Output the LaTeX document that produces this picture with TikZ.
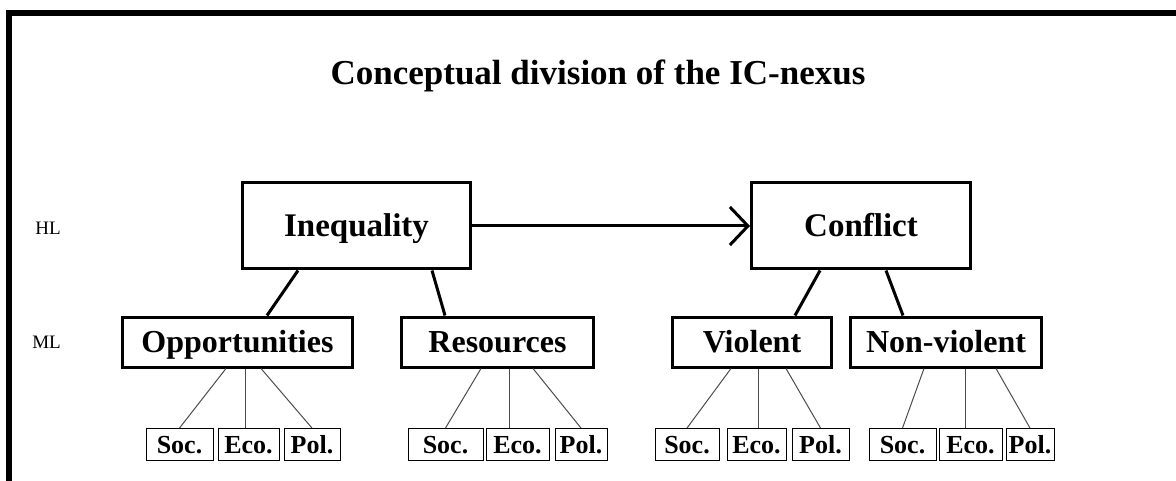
\documentclass[tikz,border=0pt]{standalone}
\usepackage{fontspec}
\setmainfont{Liberation Serif}
\usetikzlibrary{arrows.meta}

\begin{document}
\begin{tikzpicture}[
	x = 1pt, y = -1pt,
	bigbox/.style = {draw, line width=3pt, font=\bfseries\fontsize{33}{36}\selectfont, text height=22pt, text depth=0pt, minimum height=86pt, inner sep=0pt},
	midbox/.style = {draw, line width=3pt, font=\bfseries\fontsize{32}{36}\selectfont, text height=21pt, text depth=0pt, minimum height=50pt, inner sep=0pt},
	smallbox/.style = {draw, line width=0.9pt, font=\bfseries\fontsize{26}{30}\selectfont, text height=17pt, text depth=0pt, minimum height=32pt, inner sep=0pt},
	link/.style = {line width=3pt},
	sublink/.style = {line width=1pt, black!70},
	level/.style = {anchor=east, inner sep=0pt, font=\fontsize{19}{22}\selectfont}
	]

	\useasboundingbox (0,0) rectangle (1176,481);
	\draw[line width=6pt, line join=miter] (9,481) -- (9,13) -- (1176,13);

	\node (title) at (598,76) {\bfseries\fontsize{35}{40}\selectfont Conceptual division of the IC-nexus};

	\node[level] (hl) at (61,228) {HL};
	\node[level] (ml) at (61,342) {ML};

	% high level
	\node[bigbox, minimum width=228pt] (ineq) at (356.5,226) {Inequality};
	\node[bigbox, minimum width=219pt] (conf) at (861,226) {Conflict};
	\draw[link, -{Straight Barb[length=18pt, width=38pt]}] (ineq) -- (conf);

	% middle level
	\node[midbox, minimum width=230pt] (opp) at (237.5,342) {Opportunities};
	\node[midbox, minimum width=192pt] (res) at (497.5,342) {Resources};
	\node[midbox, minimum width=159pt] (vio) at (752,342) {Violent};
	\node[midbox, minimum width=191pt] (non) at (946,342) {Non-violent};

	\draw[link] (ineq.south -| 298,0) -- (opp.north -| 267,0);
	\draw[link] (ineq.south -| 432,0) -- (res.north -| 445,0);
	\draw[link] (conf.south -| 820,0) -- (vio.north -| 795,0);
	\draw[link] (conf.south -| 886,0) -- (non.north -| 903,0);

	% sub-dimensions
	\node[smallbox, minimum width=67pt] (opp-soc) at (179.5,444.5) {Soc.};
	\node[smallbox, minimum width=61pt] (opp-eco) at (248.5,444.5) {Eco.};
	\node[smallbox, minimum width=56pt] (opp-pol) at (312,444.5) {Pol.};

	\node[smallbox, minimum width=75pt] (res-soc) at (445.5,444.5) {Soc.};
	\node[smallbox, minimum width=63pt] (res-eco) at (517.5,444.5) {Eco.};
	\node[smallbox, minimum width=52pt] (res-pol) at (581,444.5) {Pol.};

	\node[smallbox, minimum width=64pt] (vio-soc) at (687,444.5) {Soc.};
	\node[smallbox, minimum width=59pt] (vio-eco) at (756.5,444.5) {Eco.};
	\node[smallbox, minimum width=57pt] (vio-pol) at (820.5,444.5) {Pol.};

	\node[smallbox, minimum width=67pt] (non-soc) at (902.5,444.5) {Soc.};
	\node[smallbox, minimum width=63pt] (non-eco) at (970.5,444.5) {Eco.};
	\node[smallbox, minimum width=48pt] (non-pol) at (1030,444.5) {Pol.};

	\foreach \m/\a/\c/\b in {opp/226/245/261, res/481/509/533, vio/731/758/786, non/924/965/996}{
		\draw[sublink] (\m.south -| \a,0) -- (\m-soc.north);
		\draw[sublink] (\m.south -| \c,0) -- (\m-eco.north -| \c,0);
		\draw[sublink] (\m.south -| \b,0) -- (\m-pol.north);
	}

\end{tikzpicture}
\end{document}
